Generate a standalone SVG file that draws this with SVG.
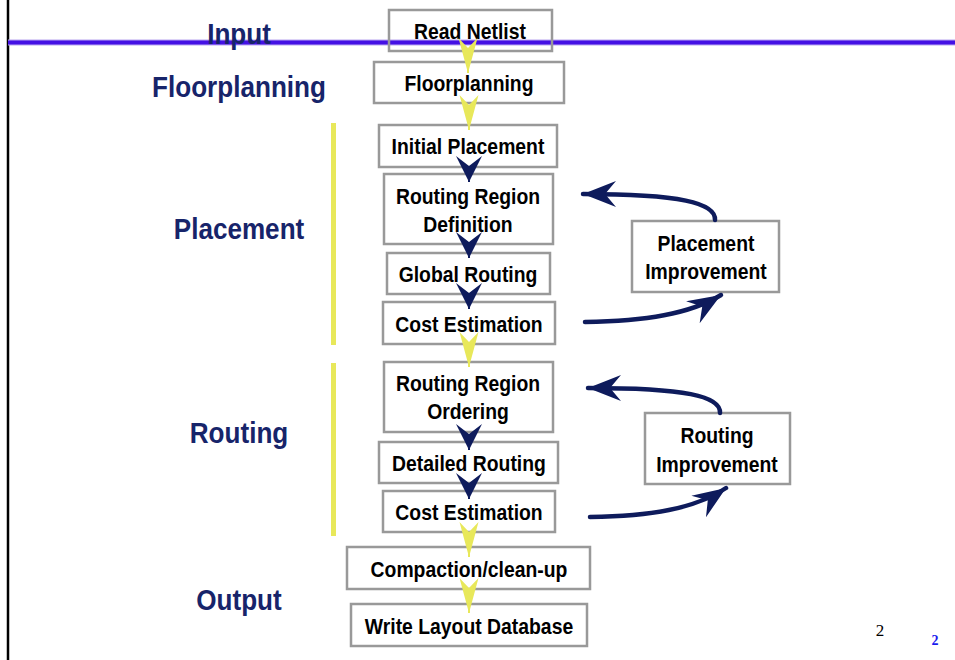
<svg xmlns="http://www.w3.org/2000/svg" width="955" height="660" viewBox="0 0 955 660">
<style>
.box{fill:#fff;stroke:#999;stroke-width:2.5}
.bt{font-family:"Liberation Sans",Arial,sans-serif;font-weight:bold;font-size:22px;fill:#000;text-anchor:middle}
.lab{font-family:"Liberation Sans",Arial,sans-serif;font-weight:bold;font-size:29px;fill:#17246a;text-anchor:middle}
.yl{stroke:#e8e85a;stroke-width:2;fill:none}
.nv{stroke:#0e1b5c;stroke-width:2;fill:none}
.fb{stroke:#0e1b5c;stroke-width:4.5;fill:none;stroke-linecap:round}
</style>
<defs>
<marker id="my" markerUnits="userSpaceOnUse" viewBox="-36 -11 38 22" markerWidth="38" markerHeight="22" refX="0" refY="0" orient="auto">
<path d="M0,0 L-35,-9.5 L-25,0 L-35,9.5 Z" fill="#e8e85a"/>
</marker>
<marker id="mn" markerUnits="userSpaceOnUse" viewBox="-28 -14 30 28" markerWidth="30" markerHeight="28" refX="0" refY="0" orient="auto">
<path d="M0,0 L-26,-13 L-16,0 L-26,13 Z" fill="#0e1b5c"/>
</marker>
<marker id="mf" markerUnits="userSpaceOnUse" viewBox="-36 -15 38 30" markerWidth="38" markerHeight="30" refX="0" refY="0" orient="auto">
<path d="M0,0 L-33,-13 L-22,0 L-33,13 Z" fill="#0e1b5c"/>
</marker>
</defs>
<rect width="955" height="660" fill="#fff"/>
<line x1="8" y1="0" x2="8" y2="660" stroke="#000" stroke-width="2.5"/>
<rect x="8" y="39.5" width="947" height="6" fill="#b9a6f0"/>
<rect x="8" y="40.5" width="947" height="4" fill="#4410e4"/>
<rect x="331" y="123" width="5" height="222" fill="#e8e85a"/>
<rect x="331" y="363" width="5" height="173" fill="#e8e85a"/>
<g id="labels">
<text class="lab" transform="translate(239,44) scale(0.9,1)">Input</text>
<text class="lab" transform="translate(239,97) scale(0.9,1)">Floorplanning</text>
<text class="lab" transform="translate(239,239) scale(0.9,1)">Placement</text>
<text class="lab" transform="translate(239,443) scale(0.9,1)">Routing</text>
<text class="lab" transform="translate(239,610) scale(0.9,1)">Output</text>
</g>
<g id="n-read"><rect x="389" y="10" width="163" height="41" fill="none" stroke="#999" stroke-width="2.5"/><text class="bt" transform="translate(470,39) scale(0.88,1)">Read Netlist</text></g>
<g id="n-floor"><rect class="box" x="374" y="62" width="190" height="41"/><text class="bt" transform="translate(469,91) scale(0.88,1)">Floorplanning</text></g>
<g id="n-init"><rect class="box" x="379" y="125" width="178" height="42"/><text class="bt" transform="translate(468,154) scale(0.88,1)">Initial Placement</text></g>
<g id="n-rrd"><rect class="box" x="384" y="174" width="169" height="70"/><text class="bt" transform="translate(468,204) scale(0.88,1)">Routing Region</text><text class="bt" transform="translate(468,232) scale(0.88,1)">Definition</text></g>
<g id="n-gr"><rect class="box" x="387" y="253" width="163" height="41"/><text class="bt" transform="translate(468,282) scale(0.88,1)">Global Routing</text></g>
<g id="n-ce1"><rect class="box" x="383" y="302" width="172" height="42"/><text class="bt" transform="translate(469,332) scale(0.88,1)">Cost Estimation</text></g>
<g id="n-rro"><rect class="box" x="384" y="362" width="169" height="70"/><text class="bt" transform="translate(468,391) scale(0.88,1)">Routing Region</text><text class="bt" transform="translate(468,419) scale(0.88,1)">Ordering</text></g>
<g id="n-dr"><rect class="box" x="379" y="442" width="179" height="41"/><text class="bt" transform="translate(469,471) scale(0.88,1)">Detailed Routing</text></g>
<g id="n-ce2"><rect class="box" x="383" y="491" width="172" height="41"/><text class="bt" transform="translate(469,520) scale(0.88,1)">Cost Estimation</text></g>
<g id="n-comp"><rect class="box" x="347" y="547" width="243" height="42"/><text class="bt" transform="translate(469,577) scale(0.88,1)">Compaction/clean-up</text></g>
<g id="n-write"><rect class="box" x="351" y="604" width="236" height="42"/><text class="bt" transform="translate(469,634) scale(0.88,1)">Write Layout Database</text></g>
<g id="n-pi"><rect class="box" x="632" y="221" width="147" height="71"/><text class="bt" transform="translate(706,251) scale(0.88,1)">Placement</text><text class="bt" transform="translate(706,279) scale(0.88,1)">Improvement</text></g>
<g id="n-ri"><rect class="box" x="645" y="413" width="145" height="71"/><text class="bt" transform="translate(717,443) scale(0.88,1)">Routing</text><text class="bt" transform="translate(717,472) scale(0.88,1)">Improvement</text></g>
<g id="connectors">
<path class="yl" d="M468,48 L468,73" marker-end="url(#my)"/>
<path class="yl" d="M469,105 L469,130" marker-end="url(#my)"/>
<path class="nv" d="M469,166 L469,182" marker-end="url(#mn)"/>
<path class="nv" d="M469,242 L469,258" marker-end="url(#mn)"/>
<path class="nv" d="M469,293 L469,309" marker-end="url(#mn)"/>
<path class="yl" d="M469,342 L469,367" marker-end="url(#my)"/>
<path class="nv" d="M469,434 L469,450" marker-end="url(#mn)"/>
<path class="nv" d="M469,483 L469,499" marker-end="url(#mn)"/>
<path class="yl" d="M469,532 L469,557" marker-end="url(#my)"/>
<path class="yl" d="M469,588 L469,613" marker-end="url(#my)"/>
<path class="fb" d="M585,322 C645,321 690,314 721,295" marker-end="url(#mf)"/>
<path class="fb" d="M715,220 C716,203 680,194 583,194" marker-end="url(#mf)"/>
<path class="fb" d="M590,517 C650,516 695,509 726,488" marker-end="url(#mf)"/>
<path class="fb" d="M720,413 C721,396 685,388 588,388" marker-end="url(#mf)"/>
</g>
<text x="880" y="636" font-family="'Liberation Serif',serif" font-size="17" fill="#000" text-anchor="middle">2</text>
<text x="935" y="645" font-family="'Liberation Serif',serif" font-size="14" font-weight="bold" fill="#1a1aee" text-anchor="middle">2</text>
</svg>
